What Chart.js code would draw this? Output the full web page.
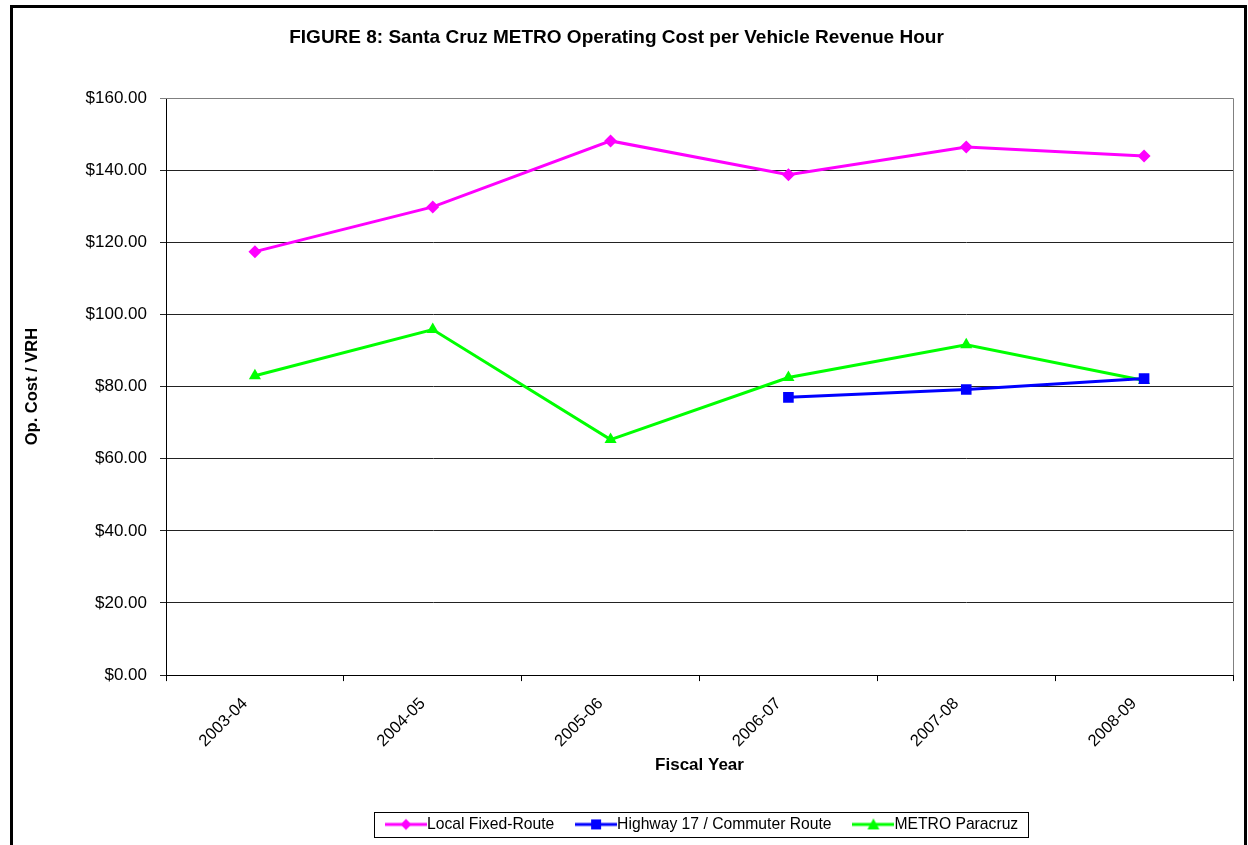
<!DOCTYPE html>
<html lang="en">
<head>
<meta charset="UTF-8">
<title>Santa Cruz METRO Operating Cost per VRH</title>
<script src="https://cdn.jsdelivr.net/npm/chart.js"></script>
<style>
    body { margin: 0; background: #fff; }
    #wrap { width: 1248px; height: 845px; }
</style>
</head>
<body>
<div id="wrap"><canvas id="chart" width="1248" height="845"></canvas></div>
<script>
// data
const years = ['2003-04', '2004-05', '2005-06', '2006-07', '2007-08', '2008-09'];
const localFixed = [117.4, 129.8, 148.1, 138.7, 146.4, 143.9];
const highway17 = [null, null, null, 77.0, 79.2, 82.2];
const paracruz = [83.0, 95.8, 65.3, 82.5, 91.6, 81.7];
const yTicks = [0, 20, 40, 60, 80, 100, 120, 140, 160];

const FONT = 'Arial, "Liberation Sans", sans-serif';
const LEGEND_SIZE = 15.7;

// legend icon: line with marker in the middle, like Excel
function makeIcon(color, style) {
    const c = document.createElement('canvas');
    c.width = 42; c.height = 14;
    const g = c.getContext('2d');
    g.strokeStyle = color; g.fillStyle = color; g.lineWidth = 3;
    g.beginPath(); g.moveTo(0, 7); g.lineTo(42, 7); g.stroke();
    g.beginPath();
    if (style === 'diamond') {
        g.moveTo(21, 1.5); g.lineTo(26.5, 7); g.lineTo(21, 12.5); g.lineTo(15.5, 7);
    } else if (style === 'square') {
        g.rect(16, 2, 10, 10);
    } else {
        g.moveTo(21, 1); g.lineTo(27, 12); g.lineTo(15, 12);
    }
    g.closePath(); g.fill();
    return c;
}
const icons = [makeIcon('#ff00ff', 'diamond'), makeIcon('#0000ff', 'square'), makeIcon('#00ff00', 'triangle')];

const framePlugin = {
    id: 'frame',
    afterLayout(chart) {
        // Excel centres the legend under the plot area, not the whole chart
        const lg = chart.legend, a = chart.chartArea;
        lg.left = a.left + 6;
        lg.right = a.right + 6;
        lg.width = a.right - a.left;
    },
    beforeDraw(chart) {
        const ctx = chart.ctx;
        ctx.save();
        ctx.fillStyle = '#fff';
        ctx.fillRect(0, 0, chart.width, chart.height);
        ctx.restore();
    },
    beforeDatasetsDraw(chart) {
        const {ctx, chartArea: a} = chart;
        ctx.save();
        ctx.strokeStyle = '#808080';
        ctx.lineWidth = 1;
        ctx.beginPath();
        ctx.moveTo(a.left, a.top + 0.5); ctx.lineTo(a.right + 0.5, a.top + 0.5);
        ctx.lineTo(a.right + 0.5, a.bottom);
        ctx.stroke();
        ctx.restore();
    },
    afterDraw(chart) {
        const ctx = chart.ctx;
        ctx.save();
        // outer frame
        ctx.strokeStyle = '#000';
        ctx.lineWidth = 3;
        ctx.beginPath();
        ctx.moveTo(11.5, 845); ctx.lineTo(11.5, 6.5); ctx.lineTo(1245.5, 6.5); ctx.lineTo(1245.5, 845);
        ctx.stroke();
        // legend box
        const boxes = chart.legend.legendHitBoxes;
        if (boxes && boxes.length) {
            const first = boxes[0], last = boxes[boxes.length - 1];
            const cy = first.top + first.height / 2;
            const left = first.left - LEGEND_SIZE / 2 - 11;
            const right = last.left + last.width + 10;
            ctx.lineWidth = 1;
            ctx.strokeStyle = '#000';
            ctx.strokeRect(Math.round(left) + 0.5, Math.round(cy - 12.5) + 0.5, Math.round(right - left), 25);
        }
        ctx.restore();
    }
};

new Chart(document.getElementById('chart'), {
    type: 'line',
    data: {
        labels: years,
        datasets: [{
            label: 'Local Fixed-Route',
            data: localFixed,
            borderColor: '#ff00ff',
            backgroundColor: '#ff00ff',
            borderWidth: 3,
            pointStyle: 'rectRot',
            pointRadius: 6.5,
            pointBorderWidth: 0,
            tension: 0
        }, {
            label: 'Highway 17 / Commuter Route',
            data: highway17,
            borderColor: '#0000ff',
            backgroundColor: '#0000ff',
            borderWidth: 3,
            pointStyle: 'rect',
            pointRadius: 7.5,
            pointBorderWidth: 0,
            tension: 0
        }, {
            label: 'METRO Paracruz',
            data: paracruz,
            borderColor: '#00ff00',
            backgroundColor: '#00ff00',
            borderWidth: 3,
            pointStyle: 'triangle',
            pointRadius: 7,
            pointBorderWidth: 0,
            tension: 0
        }]
    },
    options: {
        responsive: false,
        animation: false,
        layout: { padding: { left: 0, right: 15, top: 0, bottom: 2.75 } },
        scales: {
            x: {
                offset: true,
                grid: { offset: true, drawOnChartArea: false, drawTicks: true, tickLength: 6, color: '#000' },
                border: { display: true, color: '#000', width: 1 },
                ticks: {
                    minRotation: 45, maxRotation: 45, padding: 13, labelOffset: -10,
                    color: '#000', font: { family: FONT, size: 16.5 }
                },
                title: {
                    display: true, text: 'Fiscal Year', color: '#000',
                    font: { family: FONT, size: 17, weight: 'bold' },
                    padding: { top: 0, bottom: 12.8 }
                },
                afterFit(scale) { scale.height = 112.75; }
            },
            y: {
                min: 0, max: 160,
                afterBuildTicks(scale) { scale.ticks = yTicks.map(v => ({ value: v })); },
                grid: {
                    color: (c) => c.tick && c.tick.value === 160 ? '#808080' : '#222',
                    tickLength: 6
                },
                border: { display: true, color: '#000', width: 1 },
                ticks: {
                    padding: 13, color: '#000',
                    font: { family: FONT, size: 17 },
                    callback: (v) => '$' + Number(v).toFixed(2)
                },
                title: {
                    display: true, text: 'Op. Cost / VRH', color: '#000',
                    font: { family: FONT, size: 16.5, weight: 'bold' },
                    padding: { top: 22.6, bottom: 0 }
                },
                afterFit(scale) { scale.width = 166; }
            }
        },
        plugins: {
            title: {
                display: true,
                text: 'FIGURE 8: Santa Cruz METRO Operating Cost per Vehicle Revenue Hour',
                color: '#000',
                font: { family: FONT, size: 19, weight: 'bold' },
                padding: { top: 26.6, bottom: 48.6 }
            },
            legend: {
                position: 'bottom',
                labels: {
                    usePointStyle: true,
                    pointStyleWidth: 26.3,
                    padding: 28.7,
                    color: '#000',
                    font: { family: FONT, size: LEGEND_SIZE },
                    generateLabels(chart) {
                        const items = Chart.defaults.plugins.legend.labels.generateLabels(chart);
                        items.forEach((it, i) => { it.pointStyle = icons[i]; });
                        return items;
                    }
                }
            },
            tooltip: { enabled: false }
        }
    },
    plugins: [framePlugin]
});
</script>
</body>
</html>
